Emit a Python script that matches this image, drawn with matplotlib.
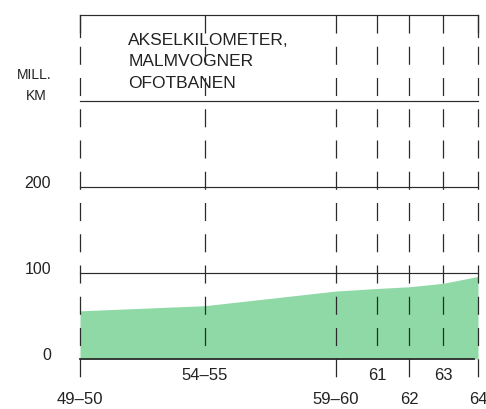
import matplotlib
matplotlib.use('Agg')
import matplotlib.pyplot as plt

# positions along the x axis (the original scale is not linear in time)
periods = ['49–50', '54–55', '59–60', '61', '62', '63', '64']
x_pos = [0, 5, 10.25, 11.9, 13.2, 14.55, 15.95]
label_row = [1, 0, 1, 0, 1, 0, 1]          # 0 = upper row, 1 = lower row
mill_km = [56, 62, 79, 82, 84, 88, 96]       # axle kilometres, ore wagons (mill. km)

grid_levels = [100, 200, 300, 400]
ytick_vals = [0, 100, 200]
title_lines = ['AKSELKILOMETER,', 'MALMVOGNER', 'OFOTBANEN']
unit_lines = ['MILL.', 'KM']

INK, GREEN = '#2b2b2b', '#8fd9a6'
plt.rcParams.update({'font.family': ['Liberation Sans', 'DejaVu Sans'],
                     'lines.scale_dashes': False, 'text.color': '#222222'})

fig = plt.figure(figsize=(4.86, 4.09), dpi=100)
ax = fig.add_axes([80 / 486, 1 - 359 / 409, 398 / 486, 344 / 409])
ax.set_xlim(x_pos[0], x_pos[-1])
ax.set_ylim(0, 400)
ax.axis('off')

ax.fill_between(x_pos, 0, mill_km, color=GREEN, linewidth=0, zorder=1)

# horizontal rules
for lv in grid_levels:
    ax.plot([x_pos[0], x_pos[-1]], [lv, lv], color=INK, lw=0.85, zorder=3, clip_on=False)
ax.plot([x_pos[0], x_pos[-1] - 0.15], [0, 0], color=INK, lw=1.3, zorder=3, clip_on=False)

# dashed verticals, dashes starting from the top rule
dash = (0, (13, 9.5))
for x, row in zip(x_pos, label_row):
    bottom = -33 if row == 1 else 0
    ax.plot([x, x], [400, bottom], color=INK, lw=0.9, ls=dash, zorder=4, clip_on=False)
for x in (x_pos[0], x_pos[-1]):
    ax.plot([x, x], [400, 375], color=INK, lw=0.9, zorder=4, clip_on=False)

# x labels in two staggered rows
for x, lab, row in zip(x_pos, periods, label_row):
    ax.annotate(lab, xy=(x, 0), xytext=(0, -16 - 24 * row), textcoords='offset pixels',
                ha='center', va='center', fontsize=12, annotation_clip=False)

# y labels sit a little above their rules
for v in ytick_vals:
    ax.annotate(str(v), xy=(0, v), xycoords=('axes fraction', 'data'), xytext=(-29, 3),
                textcoords='offset pixels', ha='right', va='center', fontsize=11.5,
                annotation_clip=False)
for i, line in enumerate(unit_lines):
    ax.annotate(line, xy=(0, 300), xycoords=('axes fraction', 'data'),
                xytext=(-46 + 2 * i, 26 - 21 * i), textcoords='offset pixels',
                ha='center', va='center', fontsize=10, annotation_clip=False)

for i, line in enumerate(title_lines):
    ax.text(0.121, 0.913 - 0.0625 * i, line, transform=ax.transAxes,
            ha='left', va='baseline', fontsize=12.5)

fig.savefig('out.png', dpi=100, facecolor='white')
